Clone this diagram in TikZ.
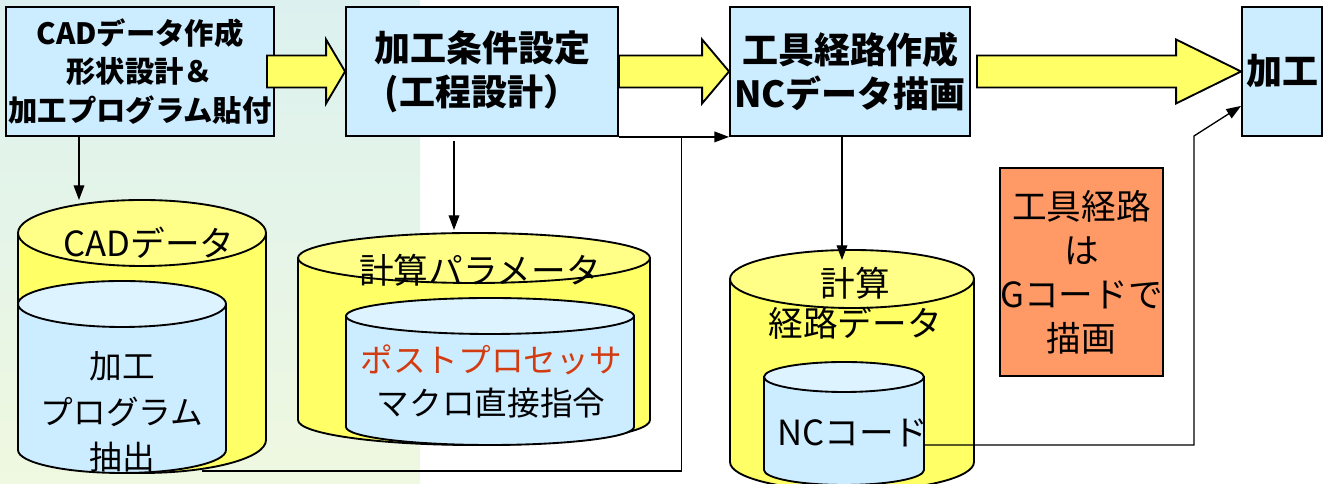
\documentclass[tikz,border=0pt]{standalone}
\usepackage{fontspec}
\setmainfont{Noto Sans CJK JP}
\usepackage{xcolor}
\usetikzlibrary{positioning, calc, arrows.meta}

\definecolor{boxblue}{HTML}{CCECFF}
\definecolor{topblue}{HTML}{DDF3FF}
\definecolor{drumyel}{HTML}{FFFF66}
\definecolor{topyel}{HTML}{FFFF88}
\definecolor{notered}{HTML}{FF9966}
\definecolor{postred}{HTML}{D23C10}
\definecolor{bgtop}{HTML}{DCF1EF}
\definecolor{bgbot}{HTML}{EFF8E0}

% drum: centre x, half width, top y, bottom y, ellipse height, body, top
\newcommand\drum[7]{%
  \filldraw[fill=#6, line width=1.4pt] ({#1-#2},#3) -- ({#1-#2},#4)
    arc[start angle=180, end angle=360, x radius=#2, y radius=#5] -- ({#1+#2},#3) -- cycle;
  \filldraw[fill=#7, line width=1.4pt] (#1,#3) ellipse[x radius=#2, y radius=#5];
}

\begin{document}
\begin{tikzpicture} [x=0.75pt, y=0.75pt,
                    stepbox/.style = {draw,
                                      fill=boxblue,
                                      line width=1.4pt,
                                      inner sep=0pt,
                                      align=center,
                                      minimum height=96.75pt,
                                      font=\bfseries},
                    fat/.style = {draw, fill=drumyel, line width=1.4pt},
                    link/.style = {line width=1pt, -{Triangle[length=11pt, width=8pt]}},
                    label/.style = {align=center, inner sep=0pt, font=\fontsize{26}{33}\selectfont}]

  \useasboundingbox (0,0) rectangle (1329,484);
  \shade[top color=bgtop, bottom color=bgbot] (0,0) rectangle (420,484);

  % data stores
  \drum{142}{124}{251}{44}{33}{drumyel}{topyel}
  \drum{122}{104}{180}{34}{23}{boxblue}{topblue}
  \drum{474}{176}{226}{64}{25}{drumyel}{topyel}
  \drum{490}{144}{168}{57}{18}{boxblue}{topblue}
  \drum{852}{122}{205}{22}{29}{drumyel}{topyel}
  \drum{844}{80}{107}{14}{15}{boxblue}{topblue}

  \coordinate (cadtop) at (79,284);
  \coordinate (partop) at (454,254);
  \coordinate (pathtop) at (842,224);
  \coordinate (cadout) at (202,13);
  \coordinate (ncout) at (925,39);

  % process steps
  \node (b1) at (140,412.5) [stepbox, minimum width=201pt, font=\bfseries\fontsize{22}{29}\selectfont]
        {CADデータ作成\\形状設計＆\\加工プログラム貼付};
  \node (b2) at (482,412.5) [stepbox, minimum width=204pt, font=\bfseries\fontsize{27}{33}\selectfont]
        {加工条件設定\\(工程設計）};
  \node (b3) at (850,412.5) [stepbox, minimum width=180pt, font=\bfseries\fontsize{27}{33}\selectfont]
        {工具経路作成\\NCデータ描画};
  \node (b4) at (1282,412.5) [stepbox, minimum width=60pt, font=\bfseries\fontsize{27}{33}\selectfont]
        {加工};
  \node (note) at (1081.5,212) [draw, fill=notered, line width=1.4pt, minimum width=120.75pt,
        minimum height=156pt, inner sep=0pt, align=center, font=\fontsize{26}{33}\selectfont]
        {工具経路\\は\\Gコードで\\描画};

  \foreach \a/\b/\h/\s in {b1/b2/14.25/-6, b2/b3/20.25/0, b3/b4/48.75/4.5}
    \draw[fat] let \p1 = (\a.east), \p2 = (\b.west) in
      (\x1+\s*1pt, \y1+12pt) -- (\x2-\h*1pt, \y1+12pt) -- (\x2-\h*1pt, \y1+24pt)
      -- (\x2, \y1) -- (\x2-\h*1pt, \y1-24pt) -- (\x2-\h*1pt, \y1-12pt)
      -- (\x1+\s*1pt, \y1-12pt) -- cycle;

  \draw[link] (b1.south -| cadtop) -- (cadtop);
  \draw[link] ([yshift=-3pt]b2.south -| partop) -- (partop);
  \draw[link] (b3.south -| pathtop) -- (pathtop);
  \draw[link] (b2.south east) -- (b3.south west);
  \draw[line width=1pt] (cadout) -| ($(b2.south east)!0.57!(b3.south west)$);
  \draw[link] (ncout) -| (1194,348) -- ([yshift=23.25pt]b4.south west);

  % store labels
  \node (cadlbl) at (149,241) [label] {CADデータ};
  \node (prglbl) at (122,72) [label, font=\fontsize{24.5}{34}\selectfont] {加工\\プログラム\\抽出};
  \node (parlbl) at (480,214) [label] {計算パラメータ};
  \node (maclbl) at (491,102.5) [label, font=\fontsize{24.5}{32}\selectfont]
        {\textcolor{postred}{ポストプロセッサ}\\マクロ直接指令};
  \node (pthlbl) at (855,181) [label, font=\fontsize{26}{30}\selectfont] {計算\\経路データ};
  \node (nclbl) at (853,51) [label] {NCコード};
\end{tikzpicture}
\end{document}
